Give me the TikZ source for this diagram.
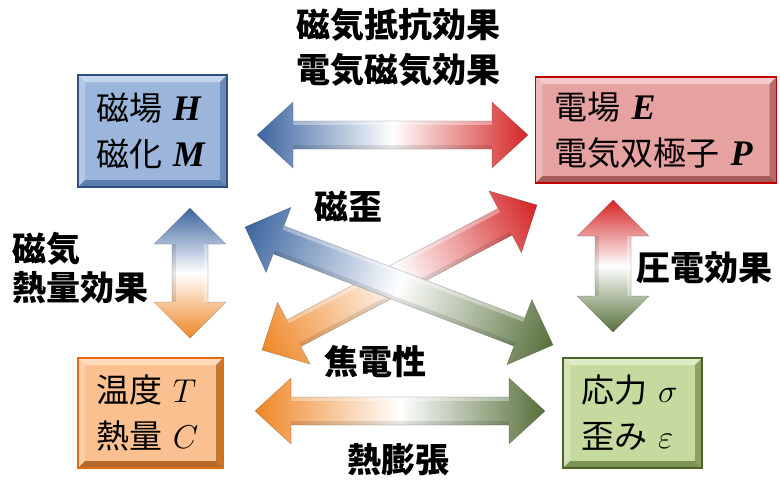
\RequirePackage{fix-cm}
\documentclass[tikz,border=0pt]{standalone}
\usepackage{fontspec}
\newfontfamily\jp{Noto Sans CJK JP}
\newfontfamily\tms{Liberation Serif}

\definecolor{arBlue}{HTML}{3C64A0}
\definecolor{arRed}{HTML}{D42424}
\definecolor{arOrange}{HTML}{EE8626}
\definecolor{arGreen}{HTML}{566F3A}

\definecolor{bFace}{HTML}{9BB6DA}\definecolor{bTop}{HTML}{C4D6EE}\definecolor{bLeft}{HTML}{B3C8E5}
\definecolor{bRight}{HTML}{6A8BB8}\definecolor{bBot}{HTML}{5B7DAD}\definecolor{bLine}{HTML}{2F4F7A}
\definecolor{rFace}{HTML}{E6A1A1}\definecolor{rTop}{HTML}{F2CACA}\definecolor{rLeft}{HTML}{EDB9B9}
\definecolor{rRight}{HTML}{B86B6B}\definecolor{rBot}{HTML}{A85B5B}\definecolor{rLine}{HTML}{C00000}
\definecolor{oFace}{HTML}{FAC08F}\definecolor{oTop}{HTML}{FCDAB9}\definecolor{oLeft}{HTML}{FBCFA8}
\definecolor{oRight}{HTML}{C0773A}\definecolor{oBot}{HTML}{B3692C}\definecolor{oLine}{HTML}{E46C0A}
\definecolor{gFace}{HTML}{C6DA9F}\definecolor{gTop}{HTML}{DFEBC6}\definecolor{gLeft}{HTML}{D4E3B4}
\definecolor{gRight}{HTML}{8AA262}\definecolor{gBot}{HTML}{7C9554}\definecolor{gLine}{HTML}{4F6228}

\newcommand\bivar[1]{{\tms\bfseries\itshape\fontsize{36}{46}\selectfont #1}}

\tikzset{
  bevelbox/.style n args={6}{draw=#6, line width=1.8pt, fill=#1, rectangle,
    inner xsep=18pt, inner ysep=0pt, align=left,
    font=\jp\fontsize{33}{46}\selectfont,
    path picture={
      \fill[#2] (path picture bounding box.north west) -- (path picture bounding box.north east)
        -- ([xshift=-7pt,yshift=-7pt]path picture bounding box.north east)
        -- ([xshift=7pt,yshift=-7pt]path picture bounding box.north west) -- cycle;
      \fill[#3] (path picture bounding box.north west) -- ([xshift=7pt,yshift=-7pt]path picture bounding box.north west)
        -- ([xshift=7pt,yshift=7pt]path picture bounding box.south west)
        -- (path picture bounding box.south west) -- cycle;
      \fill[#4] (path picture bounding box.north east) -- ([xshift=-7pt,yshift=-7pt]path picture bounding box.north east)
        -- ([xshift=-7pt,yshift=7pt]path picture bounding box.south east)
        -- (path picture bounding box.south east) -- cycle;
      \fill[#5] (path picture bounding box.south west) -- ([xshift=7pt,yshift=7pt]path picture bounding box.south west)
        -- ([xshift=-7pt,yshift=7pt]path picture bounding box.south east)
        -- (path picture bounding box.south east) -- cycle;
    }},
  lab/.style={inner sep=0pt, font=\jp\bfseries\fontsize{34}{45}\selectfont}
}

\newcommand\fatarrow[7]{%
  \pgfpointanchor{#1}{center}\pgfgetlastxy{\FAax}{\FAay}%
  \pgfpointanchor{#2}{center}\pgfgetlastxy{\FAbx}{\FAby}%
  \pgfmathsetmacro\FAang{atan2((\FAby)-(\FAay),(\FAbx)-(\FAax))}%
  \pgfmathsetmacro\FAlen{veclen((\FAbx)-(\FAax),(\FAby)-(\FAay))}%
  \begin{scope}[transform canvas={shift={(#1)},rotate=\FAang}]
    \shade[left color=#3,right color=#4,middle color=white]
      (0,0) -- (#7,#5) -- (#7,#6) -- (\FAlen-#7,#6) -- (\FAlen-#7,#5) -- (\FAlen,0)
      -- (\FAlen-#7,-#5) -- (\FAlen-#7,-#6) -- (#7,-#6) -- (#7,-#5) -- cycle;
    \fill[black,opacity=0.10] (#7,#6) rectangle (\FAlen-#7,#6-4);
    \fill[white,opacity=0.35] (#7,-#6) rectangle (\FAlen-#7,-#6+4);
    \draw[black,opacity=0.18,line width=0.7pt,line join=round]
      (0,0) -- (#7,#5) -- (#7,#6) -- (\FAlen-#7,#6) -- (\FAlen-#7,#5) -- (\FAlen,0)
      -- (\FAlen-#7,-#5) -- (\FAlen-#7,-#6) -- (#7,-#6) -- (#7,-#5) -- cycle;
  \end{scope}}

\begin{document}
\begin{tikzpicture}[x=1pt,y=-1pt]
\useasboundingbox (0,0) rectangle (780,480);
\fill[white] (0,0) rectangle (780,480);

% boxes
\node[bevelbox={bFace}{bTop}{bLeft}{bRight}{bBot}{bLine}, minimum width=149pt, minimum height=112pt, text width=113pt]
  (mag) at (152.5,131) {磁場 \bivar{H}\\磁化 \bivar{M}};
\node[bevelbox={rFace}{rTop}{rLeft}{rRight}{rBot}{rLine}, minimum width=241pt, minimum height=106pt, text width=203pt]
  (ele) at (656,130) {電場 \bivar{E}\\電気双極子 \bivar{P}};
\node[bevelbox={oFace}{oTop}{oLeft}{oRight}{oBot}{oLine}, minimum width=145pt, minimum height=110pt, text width=109pt]
  (tmp) at (150.5,413) {温度 $T$\\熱量 $C$};
\node[bevelbox={gFace}{gTop}{gLeft}{gRight}{gBot}{gLine}, minimum width=139pt, minimum height=110pt, text width=103pt]
  (str) at (632.5,413) {応力 $\sigma$\\歪み $\varepsilon$};

% arrow end points
\coordinate (topL) at (257,135);
\coordinate (topR) at (528,135);
\coordinate (botL) at (255,411);
\coordinate (botR) at (545,411);
\coordinate (lefT) at (190,208);
\coordinate (lefB) at (190,338);
\coordinate (rigT) at (613,200);
\coordinate (rigB) at (613,332);
\coordinate (msB) at (245,227);
\coordinate (msG) at (553,345);
\coordinate (peO) at (262,350);
\coordinate (peR) at (537,205);

\fatarrow{topL}{topR}{arBlue}{arRed}{33}{14}{36}
\fatarrow{botL}{botR}{arOrange}{arGreen}{33}{14}{36}
\fatarrow{lefT}{lefB}{arBlue}{arOrange}{36}{18}{36}
\fatarrow{rigT}{rigB}{arRed}{arGreen}{36}{18}{36}
\fatarrow{peO}{peR}{arOrange}{arRed}{35}{15}{36}
\fatarrow{msB}{msG}{arBlue}{arGreen}{35}{15}{36}

% labels
\node[lab, align=center] (mr) at (398,47) {磁気抵抗効果\\電気磁気効果};
\node[lab] (ms) at (348,207) {磁歪};
\node[lab] (pe) at (375,362) {焦電性};
\node[lab] (te) at (398,460) {熱膨張};
\node[lab, align=left, anchor=west, font=\jp\bfseries\fontsize{34}{39}\selectfont] (mc) at (12,268) {磁気\\熱量効果};
\node[lab] (pz) at (704,268) {圧電効果};
\end{tikzpicture}
\end{document}
